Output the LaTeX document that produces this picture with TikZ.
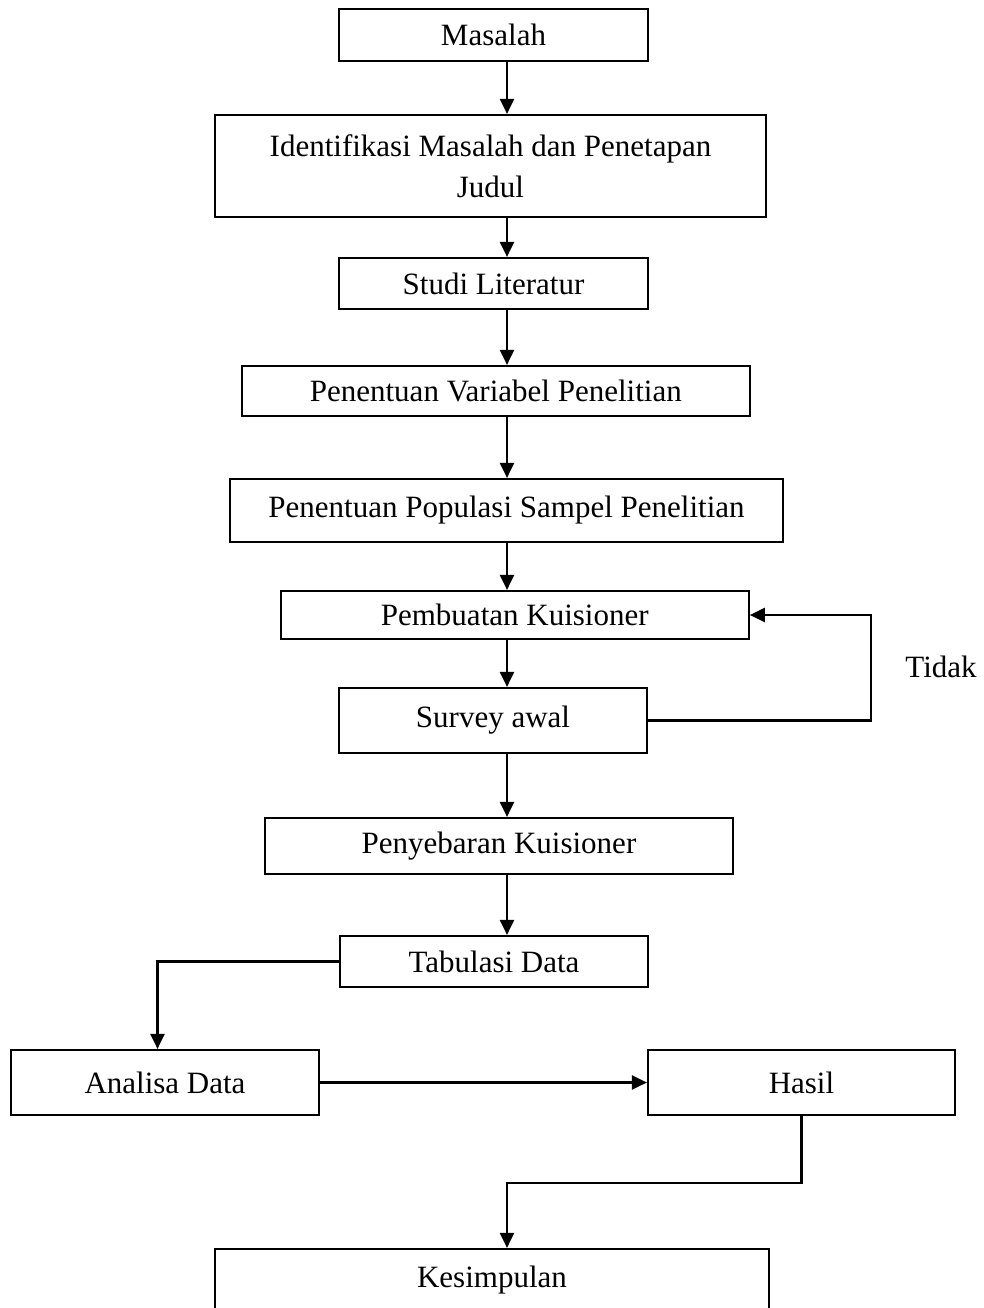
\documentclass[tikz,border=0pt]{standalone}
\usepackage{fontspec}
\setmainfont{Liberation Serif}
\usetikzlibrary{arrows.meta}
\begin{document}
\begin{tikzpicture}[x=1pt,y=-1pt,
  box/.style={draw=black,line width=2.2pt,rectangle,inner sep=0pt,align=center,
    font=\fontsize{31}{41}\selectfont},
  arr/.style={line width=2.2pt,-{Triangle[length=15pt,width=14pt]}},
  ln/.style={line width=2.2pt}]
\useasboundingbox (0,0) rectangle (983,1308);
\node[box,minimum width=309pt,minimum height=52pt] (masalah) at (493.5,35) {Masalah};
\node[box,minimum width=551pt,minimum height=102pt] (ident) at (490.5,166) {Identifikasi Masalah dan Penetapan\\Judul};
\node[box,minimum width=309pt,minimum height=51pt] (studi) at (493.5,283.5) {Studi Literatur};
\node[box,minimum width=508pt,minimum height=50pt] (variabel) at (495.8,391) {Penentuan Variabel Penelitian};
\node[box,minimum width=553pt,minimum height=63pt] (populasi) at (506.5,510.5) {Penentuan Populasi Sampel Penelitian};
\node[box,minimum width=468pt,minimum height=48pt] (pembuatan) at (514.75,615) {Pembuatan Kuisioner};
\node[box,minimum width=308pt,minimum height=65pt] (survey) at (493,720.5) {Survey awal};
\node[box,minimum width=468pt,minimum height=56pt] (penyebaran) at (499,846) {Penyebaran Kuisioner};
\node[box,minimum width=308pt,minimum height=51pt] (tabulasi) at (494,961.5) {Tabulasi Data};
\node[box,minimum width=308pt,minimum height=65pt] (analisa) at (165,1082.5) {Analisa Data};
\node[box,minimum width=307pt,minimum height=65pt] (hasil) at (801.5,1082.5) {Hasil};
\node[box,minimum width=554pt,minimum height=62pt] (kesimpulan) at (492,1280) {Kesimpulan};
\node[font=\fontsize{31}{41}\selectfont,inner sep=0pt] (tidak) at (941,667) {Tidak};
\coordinate (ax) at (507,0);
\coordinate (fb) at (871,0);
\coordinate (tx) at (157.5,0);
\coordinate (hk) at (800,1183);
\draw[arr] (masalah.south -| ax) -- (ident.north -| ax);
\draw[arr] (ident.south -| ax) -- (studi.north -| ax);
\draw[arr] (studi.south -| ax) -- (variabel.north -| ax);
\draw[arr] (variabel.south -| ax) -- (populasi.north -| ax);
\draw[arr] (populasi.south -| ax) -- (pembuatan.north -| ax);
\draw[arr] (pembuatan.south -| ax) -- (survey.north -| ax);
\draw[arr] (survey.south -| ax) -- (penyebaran.north -| ax);
\draw[arr] (penyebaran.south -| ax) -- (tabulasi.north -| ax);
\draw[arr] (survey.east) -- (survey.east -| fb) -- (pembuatan.east -| fb) -- (pembuatan.east);
\draw[arr] (tabulasi.west) -- (tabulasi.west -| tx) -- (analisa.north -| tx);
\draw[arr] (analisa.east) -- (hasil.west);
\draw[arr] (hasil.south) -- (hasil.south |- hk) -- (hk -| ax) -- (kesimpulan.north -| ax);
\end{tikzpicture}
\end{document}
